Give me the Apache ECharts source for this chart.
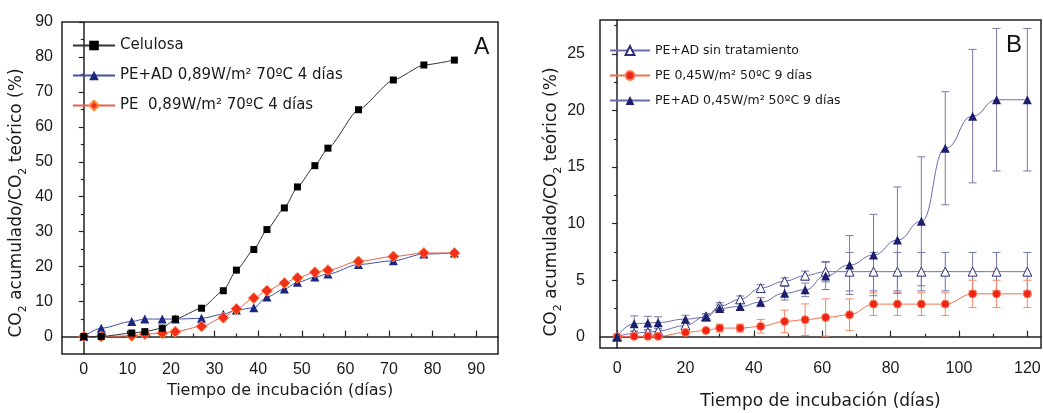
<!DOCTYPE html>
<html>
<head>
<meta charset="utf-8">
<script src="https://cdn.jsdelivr.net/npm/echarts@6/dist/echarts.min.js"></script>
<style>html,body{margin:0;padding:0;background:#fff;}#c{width:1043px;height:413px;}</style>
</head>
<body>
<div id="c"></div>
<script>
// ---------- Panel A data ----------
const daysA = [0, 4, 11, 14, 18, 21, 27, 32, 35, 39, 42, 46, 49, 53, 56, 63, 71, 78, 85];
const celulosa = [0, 0, 1.0, 1.4, 2.4, 5.0, 8.1, 13.1, 19.0, 24.9, 30.6, 36.8, 42.8, 48.9, 53.9, 64.9, 73.4, 77.7, 79.1];
const peAd089 = [0, 2.4, 4.3, 5.0, 5.0, 5.0, 5.2, 6.4, 7.6, 8.2, 11.3, 13.6, 15.5, 17.0, 17.9, 20.6, 21.7, 23.6, 23.9];
const pe089 = [0, 0, 0.2, 0.7, 1.0, 1.4, 2.9, 5.4, 7.9, 11.0, 13.1, 15.3, 16.8, 18.4, 19.0, 21.5, 22.9, 23.9, 23.9];
const namesA = ['Celulosa', 'PE+AD 0,89W/m² 70ºC 4 días', 'PE  0,89W/m² 70ºC 4 días'];

// ---------- Panel B data ----------
const daysB = [0, 5, 9, 12, 20, 26, 30, 36, 42, 49, 55, 61, 68, 75, 82, 89, 96, 104, 111, 120];
const sinTrat = [0, 0.3, 0.4, 0.5, 1.0, 1.8, 2.7, 3.3, 4.3, 4.9, 5.4, 5.75, 5.75, 5.75, 5.75, 5.75, 5.75, 5.75, 5.75, 5.75];
const sinTratErr = [0, 0.2, 0.2, 0.2, 0.2, 0.2, 0.3, 0.3, 0.3, 0.3, 0.4, 0.9, 1.7, 1.7, 1.7, 1.7, 1.7, 1.7, 1.7, 1.7];
const pe045 = [0, 0.03, 0.03, 0.03, 0.38, 0.55, 0.76, 0.76, 0.91, 1.35, 1.5, 1.7, 1.94, 2.88, 2.88, 2.88, 2.88, 3.79, 3.79, 3.79];
const pe045Err = [0, 0.1, 0.1, 0.1, 0.1, 0.15, 0.35, 0.35, 0.6, 1.0, 1.4, 1.65, 1.4, 1.0, 1.0, 1.0, 1.0, 1.2, 1.2, 1.2];
const peAd045 = [0, 1.14, 1.2, 1.26, 1.55, 1.73, 2.5, 2.67, 3.05, 3.84, 4.14, 5.37, 6.34, 7.22, 8.54, 10.2, 16.66, 19.5, 20.95, 20.95];
const peAd045Err = [0, 0.7, 0.6, 0.5, 0.35, 0.3, 0.3, 0.3, 0.4, 0.6, 0.6, 1.2, 2.6, 3.6, 4.7, 5.7, 5.0, 5.9, 6.3, 6.3];
const namesB = ['PE+AD sin tratamiento', 'PE 0,45W/m² 50ºC 9 días', 'PE+AD 0,45W/m² 50ºC 9 días'];

// ---------- Tick labels ----------
const xTicksA = [0, 10, 20, 30, 40, 50, 60, 70, 80, 90];
const xMinorA = [5, 15, 25, 35, 45, 55, 65, 75, 85];
const yTicksA = [0, 10, 20, 30, 40, 50, 60, 70, 80, 90];
const yMinorA = [5, 15, 25, 35, 45, 55, 65, 75, 85];
const xTicksB = [0, 20, 40, 60, 80, 100, 120];
const xMinorB = [10, 30, 50, 70, 90, 110];
const yTicksB = [0, 5, 10, 15, 20, 25];
const yMinorB = [2.5, 7.5, 12.5, 17.5, 22.5, 27.5];

const xTitle = 'Tiempo de incubación (días)';
const yTitle = 'CO{s|2} acumulado/CO{s|2} teórico (%)';

const zip = (xs, ys) => xs.map((x, i) => [x, ys[i]]);
const errData = (xs, ys, es) => xs.map((x, i) => [x, ys[i] - es[i], ys[i] + es[i], es[i]]).filter(d => d[3] > 0);

const TXT = '#1a1a1a';
const tickFont = { fontFamily: 'Liberation Sans', fontSize: 16, color: TXT };
const axisLineStyle = { color: '#222', width: 1.5 };

function majorX(grid, min, max, ticks, margin, nameGap, nameSize) {
  return {
    gridIndex: grid, type: 'value', min: min, max: max, position: 'bottom',
    axisLine: { show: true, lineStyle: axisLineStyle },
    axisTick: { show: true, inside: true, length: 6, customValues: ticks, lineStyle: { color: '#222', width: 1.2 } },
    axisLabel: Object.assign({ customValues: ticks, margin: margin }, tickFont),
    splitLine: { show: false },
    name: xTitle, nameLocation: 'middle', nameGap: nameGap,
    nameTextStyle: { fontFamily: 'DejaVu Sans', fontSize: nameSize, color: TXT }
  };
}
function minorX(grid, min, max, ticks) {
  return {
    gridIndex: grid, type: 'value', min: min, max: max, position: 'bottom',
    axisLine: { show: false },
    axisTick: { show: true, inside: true, length: 3, customValues: ticks, lineStyle: { color: '#222', width: 1.2 } },
    axisLabel: { show: false }, splitLine: { show: false }
  };
}
function majorY(grid, min, max, ticks, margin, nameGap, pad) {
  return {
    gridIndex: grid, type: 'value', min: min, max: max, position: 'left',
    axisLine: { show: true, lineStyle: axisLineStyle },
    axisTick: { show: true, inside: false, length: 5, customValues: ticks, lineStyle: { color: '#222', width: 1.2 } },
    axisLabel: Object.assign({ customValues: ticks, margin: margin }, tickFont),
    splitLine: { show: false },
    name: yTitle, nameLocation: 'middle', nameGap: nameGap,
    nameTextStyle: {
      fontFamily: 'DejaVu Sans', fontSize: 17, color: TXT, lineHeight: 24, padding: pad,
      rich: { s: { fontFamily: 'DejaVu Sans', fontSize: 11, lineHeight: 24, verticalAlign: 'bottom', color: TXT } }
    }
  };
}
function minorY(grid, min, max, ticks) {
  return {
    gridIndex: grid, type: 'value', min: min, max: max, position: 'left',
    axisLine: { show: false },
    axisTick: { show: true, inside: false, length: 3, customValues: ticks, lineStyle: { color: '#222', width: 1.2 } },
    axisLabel: { show: false }, splitLine: { show: false }
  };
}

function errRender(color) {
  return function (params, api) {
    const x = api.value(0), lo = api.value(1), hi = api.value(2);
    const a = api.coord([x, hi]), b = api.coord([x, lo]);
    const w = 4;
    const st = { stroke: color, lineWidth: 1 };
    return {
      type: 'group', children: [
        { type: 'line', shape: { x1: a[0], y1: a[1], x2: b[0], y2: b[1] }, style: st },
        { type: 'line', shape: { x1: a[0] - w, y1: a[1], x2: a[0] + w, y2: a[1] }, style: st },
        { type: 'line', shape: { x1: b[0] - w, y1: b[1], x2: b[0] + w, y2: b[1] }, style: st }
      ]
    };
  };
}

const chart = echarts.init(document.getElementById('c'), null, { renderer: 'canvas' });
chart.setOption({
  backgroundColor: '#fff',
  animation: false,
  grid: [
    { left: 62, top: 22, width: 436, height: 332, show: true, borderColor: '#222', borderWidth: 1.5, backgroundColor: 'transparent', outerBoundsMode: 'none' },
    { left: 600, top: 20, width: 441, height: 328, show: true, borderColor: '#222', borderWidth: 1.5, backgroundColor: 'transparent', outerBoundsMode: 'none' }
  ],
  xAxis: [
    majorX(0, -5, 95, xTicksA, 8, 26, 16),
    minorX(0, -5, 95, xMinorA),
    majorX(1, -5, 124, xTicksB, 13, 45, 17),
    minorX(1, -5, 124, xMinorB)
  ],
  yAxis: [
    majorY(0, -5, 90, yTicksA, 9, 33, [0, 30, 0, 0]),
    minorY(0, -5, 90, yMinorA),
    majorY(1, -1, 28, yTicksB, 15, 33, [0, 36, 0, 0]),
    minorY(1, -1, 28, yMinorB)
  ],
  legend: [
    {
      data: namesA, orient: 'vertical', left: 67, top: 33, itemWidth: 42, itemHeight: 12, itemGap: 15,
      textStyle: { fontFamily: 'DejaVu Sans', fontSize: 15, color: TXT, lineHeight: 12 }
    },
    {
      data: namesB, orient: 'vertical', left: 604, top: 39, itemWidth: 40, itemHeight: 11, itemGap: 12,
      textStyle: { fontFamily: 'DejaVu Sans', fontSize: 12.5, color: TXT, lineHeight: 11 }
    }
  ],
  graphic: [
    { type: 'text', left: 474, top: 36, style: { text: 'A', fontFamily: 'Liberation Sans', fontSize: 23, fill: '#111' } },
    { type: 'text', left: 1006, top: 33, style: { text: 'B', fontFamily: 'Liberation Sans', fontSize: 24, fill: '#111' } }
  ],
  series: [
    // Panel A
    {
      name: namesA[1], type: 'line', xAxisIndex: 0, yAxisIndex: 0, data: zip(daysA, peAd089),
      symbol: 'triangle', symbolSize: 9, smooth: 0.3, smoothMonotone: 'x', z: 3,
      itemStyle: { color: '#1c2580' }, lineStyle: { color: '#4050a8', width: 1 }
    },
    {
      name: namesA[2], type: 'line', xAxisIndex: 0, yAxisIndex: 0, data: zip(daysA, pe089),
      symbol: 'diamond', symbolSize: 11, smooth: 0.3, smoothMonotone: 'x', z: 4,
      itemStyle: { color: '#f0301c', borderColor: '#ff8a40', borderWidth: 1 }, lineStyle: { color: '#e86050', width: 1 }
    },
    {
      name: namesA[0], type: 'line', xAxisIndex: 0, yAxisIndex: 0, data: zip(daysA, celulosa),
      symbol: 'rect', symbolSize: 7, smooth: 0.2, smoothMonotone: 'x', z: 5,
      itemStyle: { color: '#000' }, lineStyle: { color: '#333', width: 1 }
    },
    // Panel B error bars
    {
      type: 'custom', xAxisIndex: 2, yAxisIndex: 2, data: errData(daysB, sinTrat, sinTratErr),
      renderItem: errRender('#7276a6'), encode: { x: 0, y: [1, 2] }, z: 2, silent: true
    },
    {
      type: 'custom', xAxisIndex: 2, yAxisIndex: 2, data: errData(daysB, pe045, pe045Err),
      renderItem: errRender('#f08a6a'), encode: { x: 0, y: [1, 2] }, z: 2, silent: true
    },
    {
      type: 'custom', xAxisIndex: 2, yAxisIndex: 2, data: errData(daysB, peAd045, peAd045Err),
      renderItem: errRender('#7a7aa8'), encode: { x: 0, y: [1, 2] }, z: 2, silent: true
    },
    // Panel B lines
    {
      name: namesB[0], type: 'line', xAxisIndex: 2, yAxisIndex: 2, data: zip(daysB, sinTrat),
      symbol: 'triangle', symbolSize: 9, smooth: 0.4, smoothMonotone: 'x', z: 3,
      itemStyle: { color: '#ffffff', borderColor: '#2a2f7a', borderWidth: 1 }, lineStyle: { color: '#6a6eb0', width: 1 }
    },
    {
      name: namesB[1], type: 'line', xAxisIndex: 2, yAxisIndex: 2, data: zip(daysB, pe045),
      symbol: 'circle', symbolSize: 8, smooth: 0.4, smoothMonotone: 'x', z: 4,
      itemStyle: { color: '#ee2418', borderColor: '#ff7a50', borderWidth: 1 }, lineStyle: { color: '#f07050', width: 1 }
    },
    {
      name: namesB[2], type: 'line', xAxisIndex: 2, yAxisIndex: 2, data: zip(daysB, peAd045),
      symbol: 'triangle', symbolSize: 9, smooth: 0.5, smoothMonotone: 'x', z: 5,
      itemStyle: { color: '#1c1f6e' }, lineStyle: { color: '#6a6ab0', width: 1 }
    }
  ]
});
</script>
</body>
</html>
